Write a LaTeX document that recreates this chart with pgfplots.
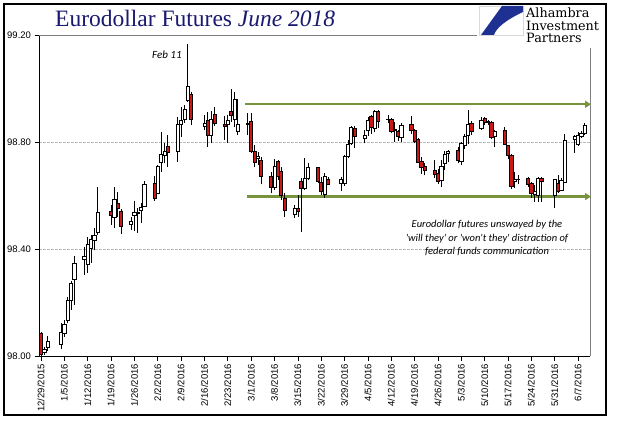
\documentclass[border=0pt]{standalone}
\usepackage{fontspec}
\usepackage{pgfplots}
\pgfplotsset{compat=1.18}
\usepackage{pgfplotstable}
\usetikzlibrary{arrows.meta}

\newfontfamily\titlefont{Liberation Serif}
\newfontfamily\tickfont{Liberation Sans}
\newfontfamily\notefont{Carlito}
\newfontfamily\logofont{DejaVu Serif}

\definecolor{candred}{RGB}{200,24,24}
\definecolor{olivegreen}{RGB}{119,147,60}
\definecolor{titleblue}{RGB}{25,25,112}
\definecolor{logoblue}{RGB}{30,48,145}

\pgfdeclareplotmark{blank}{}

% day number counted from 12/29/2015, open high low close
\pgfplotstableread{
x o h l c
0 98.085 98.088 98.000 98.005
1 98.012 98.035 98.002 98.025
2 98.033 98.075 98.020 98.056
6 98.045 98.125 98.026 98.087
7 98.085 98.135 98.072 98.120
8 98.135 98.220 98.123 98.210
9 98.210 98.282 98.172 98.272
10 98.285 98.375 98.190 98.345
13 98.362 98.408 98.303 98.372
14 98.344 98.446 98.310 98.419
15 98.403 98.452 98.348 98.436
16 98.434 98.478 98.396 98.452
17 98.464 98.633 98.452 98.538
21 98.540 98.565 98.490 98.525
22 98.520 98.633 98.480 98.587
23 98.572 98.614 98.520 98.553
24 98.540 98.550 98.456 98.486
27 98.494 98.520 98.471 98.505
28 98.527 98.580 98.468 98.538
29 98.534 98.553 98.460 98.536
30 98.543 98.573 98.498 98.557
31 98.561 98.655 98.558 98.643
34 98.646 98.673 98.580 98.590
35 98.610 98.714 98.608 98.708
36 98.723 98.839 98.689 98.754
37 98.751 98.796 98.720 98.766
38 98.785 98.826 98.708 98.761
41 98.764 98.895 98.726 98.867
42 98.867 98.930 98.820 98.880
43 98.885 98.938 98.870 98.923
44 98.957 99.166 98.950 99.010
45 98.980 98.988 98.864 98.885
49 98.857 98.900 98.845 98.870
50 98.882 98.913 98.782 98.824
51 98.824 98.917 98.795 98.885
52 98.905 98.932 98.860 98.870
55 98.867 98.897 98.808 98.857
56 98.867 98.900 98.797 98.882
57 98.913 99.000 98.876 98.900
58 98.885 98.988 98.855 98.960
59 98.839 98.960 98.826 98.867
62 98.868 98.907 98.826 98.870
63 98.876 98.907 98.758 98.764
64 98.766 98.789 98.705 98.724
65 98.740 98.764 98.714 98.745
66 98.733 98.745 98.643 98.670
69 98.670 98.689 98.608 98.630
70 98.630 98.735 98.620 98.708
71 98.726 98.733 98.658 98.673
72 98.689 98.708 98.583 98.602
73 98.590 98.608 98.520 98.546
76 98.530 98.565 98.515 98.552
77 98.552 98.602 98.520 98.540
78 98.654 98.664 98.465 98.627
79 98.627 98.739 98.620 98.664
80 98.664 98.723 98.658 98.705
83 98.705 98.708 98.646 98.652
84 98.648 98.670 98.602 98.614
85 98.606 98.683 98.590 98.670
86 98.662 98.670 98.640 98.643
90 98.646 98.670 98.618 98.662
91 98.646 98.751 98.636 98.745
92 98.748 98.808 98.739 98.790
93 98.797 98.860 98.789 98.855
94 98.851 98.860 98.776 98.822
97 98.814 98.845 98.795 98.824
98 98.845 98.895 98.824 98.882
99 98.895 98.900 98.829 98.854
100 98.851 98.920 98.836 98.916
101 98.916 98.920 98.854 98.879
104 98.883 98.900 98.870 98.886
105 98.885 98.890 98.833 98.839
106 98.842 98.874 98.800 98.846
107 98.839 98.845 98.804 98.820
108 98.817 98.870 98.800 98.864
111 98.866 98.898 98.830 98.845
112 98.845 98.850 98.795 98.801
113 98.810 98.815 98.720 98.723
114 98.726 98.745 98.680 98.705
115 98.710 98.720 98.675 98.693
118 98.695 98.733 98.667 98.679
119 98.683 98.700 98.642 98.654
120 98.658 98.733 98.633 98.708
121 98.720 98.766 98.695 98.754
122 98.758 98.770 98.724 98.764
125 98.770 98.780 98.720 98.733
126 98.726 98.800 98.714 98.795
127 98.789 98.830 98.774 98.820
128 98.824 98.920 98.791 98.866
129 98.870 98.880 98.826 98.841
132 98.851 98.895 98.845 98.882
133 98.889 98.895 98.865 98.872
134 98.878 98.882 98.862 98.874
135 98.874 98.880 98.810 98.817
136 98.820 98.845 98.783 98.841
139 98.845 98.857 98.790 98.791
140 98.786 98.790 98.736 98.751
141 98.749 98.755 98.624 98.633
142 98.652 98.687 98.629 98.660
143 98.659 98.677 98.642 98.661
146 98.664 98.670 98.633 98.642
147 98.646 98.650 98.590 98.608
148 98.604 98.640 98.577 98.614
149 98.602 98.670 98.577 98.664
150 98.664 98.670 98.577 98.654
154 98.600 98.662 98.554 98.660
155 98.646 98.677 98.608 98.614
156 98.620 98.665 98.615 98.658
157 98.649 98.829 98.645 98.808
160 98.809 98.825 98.758 98.820
161 98.791 98.839 98.785 98.826
162 98.822 98.840 98.815 98.832
163 98.833 98.870 98.825 98.861
}\candles

\begin{document}
\begin{tikzpicture}
\useasboundingbox (0pt,0pt) rectangle (628pt,421pt);
\fill[white] (0pt,0pt) rectangle (628pt,421pt);
\draw[black, line width=1.5pt] (4pt,6pt) rectangle (606pt,417pt);

\begin{axis}[
    at={(39pt,65pt)}, anchor=south west,
    scale only axis, width=551pt, height=321pt,
    xmin=-0.6, xmax=164.6, ymin=98, ymax=99.2,
    axis lines=left, axis line style={-, black, line width=0.8pt},
    clip=false,
    tick align=outside, major tick length=4.5pt,
    tick style={black, line width=0.6pt},
    ytick={98,98.4,98.8,99.2},
    scaled y ticks=false,
    yticklabel style={/pgf/number format/.cd, fixed, fixed zerofill, precision=2, assume math mode=true},
    xtick={0,7,...,161},
    xticklabels={12/29/2015,1/5/2016,1/12/2016,1/19/2016,1/26/2016,2/2/2016,2/9/2016,2/16/2016,2/23/2016,3/1/2016,3/8/2016,3/15/2016,3/22/2016,3/29/2016,4/5/2016,4/12/2016,4/19/2016,4/26/2016,5/3/2016,5/10/2016,5/17/2016,5/24/2016,5/31/2016,6/7/2016},
    xticklabel style={rotate=90, anchor=east},
    ticklabel style={font=\tickfont\fontsize{9.5}{11}\selectfont, text=black},
    ymajorgrids,
    major grid style={gray!55, line width=0.5pt, dash pattern=on 2.5pt off 1.5pt},
]
\draw[gray, line width=0.7pt] (rel axis cs:0,1) -- (rel axis cs:1,1) -- (rel axis cs:1,0);

\addplot[olivegreen, line width=2.4pt, -{Triangle[length=6pt, width=7pt]}]
    coordinates {(61.2,98.941) (164.9,98.941)};
\addplot[olivegreen, line width=2.4pt, -{Triangle[length=6pt, width=7pt]}]
    coordinates {(61.7,98.596) (164.9,98.596)};

\addplot[
    scatter, only marks, mark=blank,
    visualization depends on={\thisrow{c}-\thisrow{o} \as \cDc},
    visualization depends on={\thisrow{h}-\thisrow{o} \as \cDh},
    visualization depends on={\thisrow{l}-\thisrow{o} \as \cDl},
    scatter/@pre marker code/.code={%
        \ifdim\cDc pt<0pt \def\cFill{candred}\else\def\cFill{white}\fi
        \draw[black, line width=0.6pt] (axis direction cs:0,\cDl) -- (axis direction cs:0,\cDh);%
        \filldraw[draw=black, line width=0.6pt, fill=\cFill]
            ([xshift=-1.6pt]axis direction cs:0,0) rectangle ([xshift=1.6pt]axis direction cs:0,\cDc);%
    },
    scatter/@post marker code/.code={},
] table[x=x, y=o] {\candles};
\end{axis}

% title
\node[anchor=base west, inner sep=0pt, text=titleblue, font=\titlefont\fontsize{23.5}{28}\selectfont]
    at (55pt,394pt) {Eurodollar Futures \textit{June 2018}};

% annotations
\node[anchor=base west, inner sep=0pt, font=\notefont\itshape\fontsize{11}{13}\selectfont]
    at (152pt,362pt) {Feb 11};
\node[anchor=base, inner sep=0pt, font=\notefont\itshape\fontsize{10.5}{12}\selectfont]
    at (487pt,194pt) {Eurodollar futures unswayed by the};
\node[anchor=base, inner sep=0pt, font=\notefont\itshape\fontsize{10.5}{12}\selectfont]
    at (487pt,180pt) {'will they' or 'won't they' distraction of};
\node[anchor=base, inner sep=0pt, font=\notefont\itshape\fontsize{10.5}{12}\selectfont]
    at (487pt,167pt) {federal funds communication};

% logo
\fill[white] (477pt,373pt) rectangle (600pt,415.5pt);
\draw[black!15, line width=0.5pt] (479.5pt,385.5pt) rectangle (523.5pt,415pt);
\fill[logoblue] (481pt,386pt) -- (502pt,415pt) -- (523pt,415pt) -- (523pt,409pt)
    .. controls (506pt,401pt) and (496pt,393pt) .. (494pt,386pt) -- cycle;
\node[anchor=base west, inner sep=0pt, font=\logofont\fontsize{12.8}{14}\selectfont] at (526pt,403pt) {Alhambra};
\node[anchor=base west, inner sep=0pt, font=\logofont\fontsize{12.8}{14}\selectfont] at (526pt,390.5pt) {Investment};
\node[anchor=base west, inner sep=0pt, font=\logofont\fontsize{12.8}{14}\selectfont] at (526pt,378pt) {Partners};
\end{tikzpicture}
\end{document}
